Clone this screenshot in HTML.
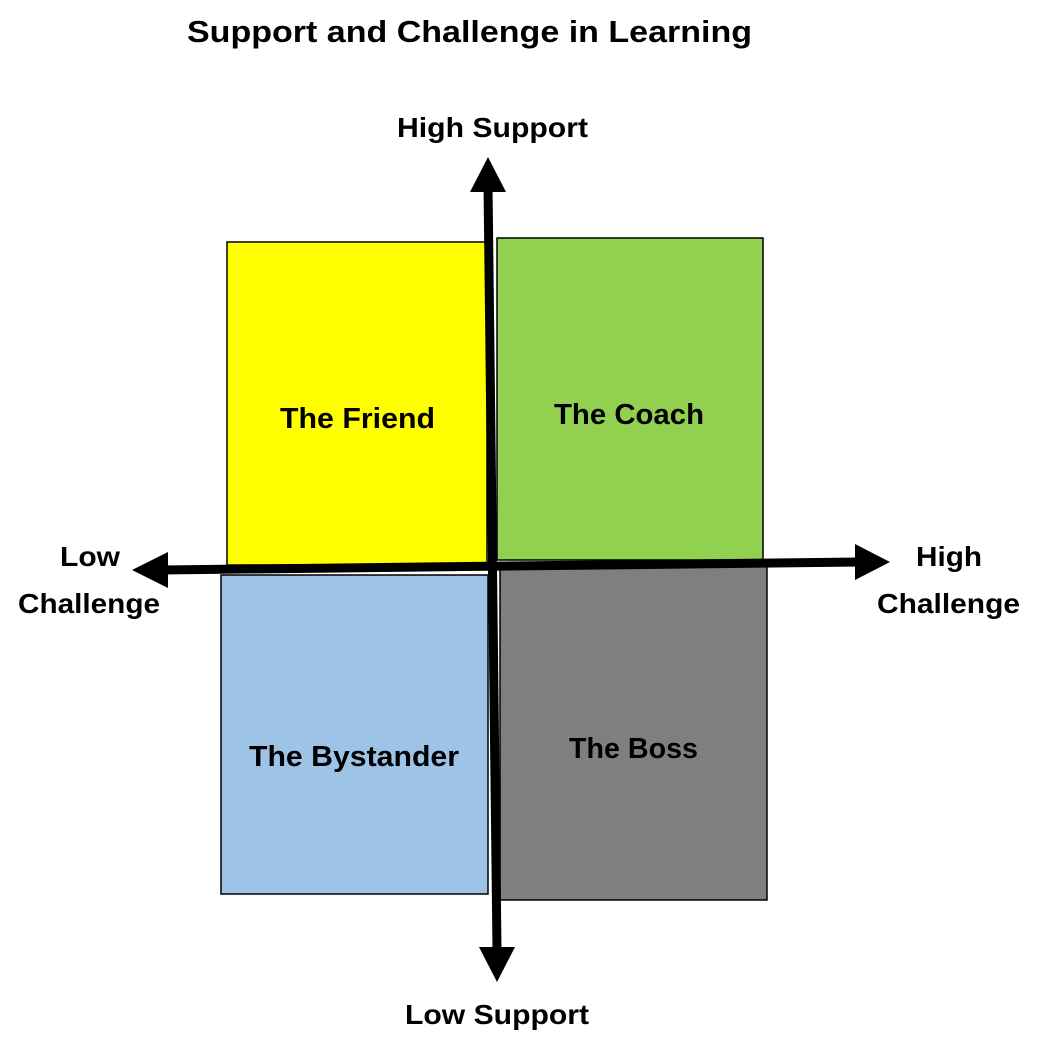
<!DOCTYPE html>
<html><head><meta charset="utf-8"><style>
html,body{margin:0;padding:0;background:#fff;}
svg{display:block;}
text{font-family:"Liberation Sans",sans-serif;font-weight:bold;fill:#000;}
</style></head><body>
<svg width="1043" height="1044" viewBox="0 0 1043 1044" xmlns="http://www.w3.org/2000/svg">
<text x="187" y="42" font-size="31" textLength="565" lengthAdjust="spacingAndGlyphs">Support and Challenge in Learning</text>
<rect x="227" y="242" width="260" height="323" fill="#ffff00" stroke="#000" stroke-width="1.5"/>
<rect x="497" y="238" width="266" height="322" fill="#92d050" stroke="#000" stroke-width="1.5"/>
<rect x="221" y="575" width="267" height="319" fill="#9dc3e6" stroke="#000" stroke-width="1.5"/>
<rect x="500" y="565" width="267" height="335" fill="#7f7f7f" stroke="#000" stroke-width="1.5"/>
<line x1="488" y1="185" x2="497" y2="950" stroke="#000" stroke-width="9"/>
<polygon points="488,157 470,192 506,192" fill="#000"/>
<polygon points="497,982 479,947 515,947" fill="#000"/>
<line x1="162" y1="570" x2="860" y2="562" stroke="#000" stroke-width="9"/>
<polygon points="132,570 168,552 168,588" fill="#000"/>
<polygon points="890,562 855,544 855,580" fill="#000"/>
<text x="397" y="137" font-size="28" textLength="191" lengthAdjust="spacingAndGlyphs">High Support</text>
<text x="405" y="1024" font-size="28" textLength="184" lengthAdjust="spacingAndGlyphs">Low Support</text>
<text x="60" y="566" font-size="28" textLength="60" lengthAdjust="spacingAndGlyphs">Low</text>
<text x="18" y="613" font-size="28" textLength="142" lengthAdjust="spacingAndGlyphs">Challenge</text>
<text x="916" y="566" font-size="28" textLength="66" lengthAdjust="spacingAndGlyphs">High</text>
<text x="877" y="613" font-size="28" textLength="143" lengthAdjust="spacingAndGlyphs">Challenge</text>
<text x="280" y="428" font-size="29" textLength="155" lengthAdjust="spacingAndGlyphs">The Friend</text>
<text x="554" y="424" font-size="29" textLength="150" lengthAdjust="spacingAndGlyphs">The Coach</text>
<text x="249" y="766" font-size="29" textLength="210" lengthAdjust="spacingAndGlyphs">The Bystander</text>
<text x="569" y="758" font-size="29" textLength="129" lengthAdjust="spacingAndGlyphs">The Boss</text>
</svg>
</body></html>
